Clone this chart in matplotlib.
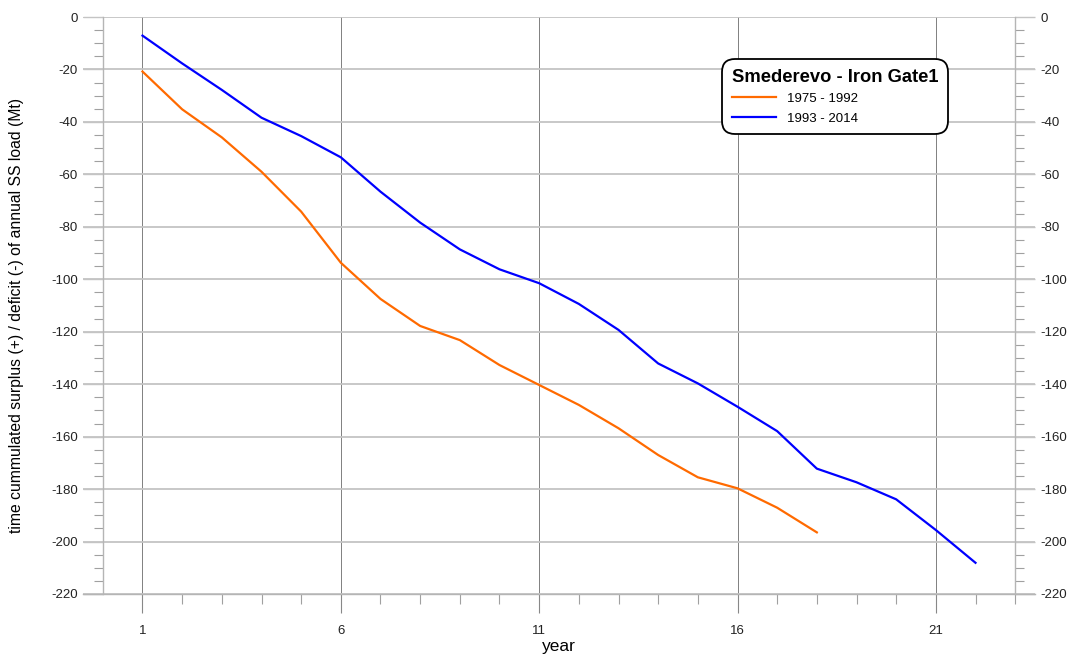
"""
Smederevo - Iron Gate1: time cumulated surplus / deficit of annual SS load.
"""
import matplotlib
matplotlib.use('Agg')
import matplotlib.pyplot as plt
from matplotlib.ticker import MultipleLocator, FixedLocator

plt.rcParams['font.family'] = ['Liberation Sans', 'DejaVu Sans']
plt.rcParams['axes.unicode_minus'] = False

# =====================================================================
# Data
# =====================================================================
YEARS_A = list(range(1, 19))
LOAD_A = [-20.8, -35.2, -45.9, -59.0, -74.2, -93.7, -107.5, -117.8, -123.2,
          -132.7, -140.3, -147.9, -156.8, -167.0, -175.5, -179.7, -187.1, -196.5]
LABEL_A = '1975 - 1992'

YEARS_B = list(range(1, 23))
LOAD_B = [-7.1, -17.7, -27.8, -38.4, -45.4, -53.5, -66.6, -78.4, -88.6, -96.2,
          -101.5, -109.4, -119.3, -132.1, -139.7, -148.6, -157.9, -172.2,
          -177.4, -183.9, -195.6, -208.1]
LABEL_B = '1993 - 2014'

X_MAJOR = [1, 6, 11, 16, 21]
X_MINOR = [x for x in range(2, 24) if x not in X_MAJOR]
Y_MAJOR = list(range(-220, 1, 20))

# =====================================================================
# Figure
# =====================================================================
fig = plt.figure(figsize=(10.75, 6.6), dpi=100)
ax = fig.add_axes([83 / 1075, 1 - 594 / 660, (1035 - 83) / 1075, (594 - 17) / 660])

ax.plot(YEARS_A, LOAD_A, color='#FF6A00', linewidth=1.6, label=LABEL_A, zorder=3)
ax.plot(YEARS_B, LOAD_B, color='#0000FF', linewidth=1.6, label=LABEL_B, zorder=3)

ax.set_xlim(-0.5, 23.5)
ax.set_ylim(-220, 0)

# spines: vertical axis lines at x=0 and x=23, no top
ax.spines['top'].set_visible(False)
ax.spines['left'].set_position(('data', 0))
ax.spines['right'].set_position(('data', 23))
for s in ('left', 'right', 'bottom'):
    ax.spines[s].set_color('#b5b5b5')
    ax.spines[s].set_linewidth(1.0)

# y ticks on both sides
ax.yaxis.set_major_locator(FixedLocator(Y_MAJOR))
ax.yaxis.set_minor_locator(MultipleLocator(5))
ax.tick_params(axis='y', which='major', left=True, right=True,
               labelleft=True, labelright=True, length=14.4, width=1.0,
               color='#c4c4c4', pad=3.5, labelsize=9.5, labelcolor='#222222')
ax.tick_params(axis='y', which='minor', left=True, right=True,
               length=6.5, width=0.8, color='#a0a0a0')

# x ticks
ax.xaxis.set_major_locator(FixedLocator(X_MAJOR))
ax.xaxis.set_minor_locator(FixedLocator(X_MINOR))
ax.tick_params(axis='x', which='major', length=13.7, width=0.8,
               color='#888888', pad=8.5, labelsize=9.5, labelcolor='#222222')
ax.tick_params(axis='x', which='minor', length=7.2, width=0.8, color='#a0a0a0')

# grid
ax.grid(axis='y', which='major', color='#c4c4c4', linewidth=1.3, zorder=1)
ax.grid(axis='x', which='major', color='#808080', linewidth=0.7, zorder=1)
ax.set_axisbelow(True)

ax.set_xlabel('year', fontsize=12.5, labelpad=1.5)
ax.set_ylabel('time cummulated surplus (+) / deficit (-) of annual SS load (Mt)',
              fontsize=11.3)
ax.yaxis.set_label_coords(-0.0615, 0.4835)

leg = ax.legend(title='Smederevo - Iron Gate1', loc='upper left',
                bbox_to_anchor=(719 / 1075, 1 - 56 / 660),
                bbox_transform=fig.transFigure, fontsize=9.5,
                title_fontproperties={'weight': 'bold', 'size': 13.2},
                handlelength=3.4, handletextpad=0.8, labelspacing=0.55,
                borderpad=0.45, framealpha=1, fancybox=True)
leg._legend_box.align = 'left'
frame = leg.get_frame()
frame.set_edgecolor('black')
frame.set_linewidth(1.3)
frame.set_boxstyle('round', pad=0.3, rounding_size=1.0)

fig.savefig('out.png', dpi=100)
